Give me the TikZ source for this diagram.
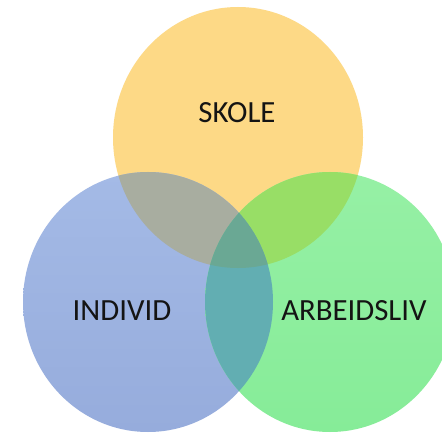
\documentclass[tikz,border=0pt]{standalone}
\usepackage{fontspec}
\setmainfont{Carlito}
\definecolor{cyel}{RGB}{253,217,134}
\definecolor{cblueT}{RGB}{164,186,230}
\definecolor{cblueB}{RGB}{150,172,220}
\definecolor{cgreenT}{RGB}{150,240,165}
\definecolor{cgreenB}{RGB}{134,236,152}
\definecolor{cyb}{RGB}{168,173,160}
\definecolor{cyg}{RGB}{152,222,102}
\definecolor{cbg}{RGB}{98,174,178}
\definecolor{cybg}{RGB}{106,168,148}
\tikzset{lbl/.style={font=\fontsize{30.8}{33}\selectfont, text=black!92, inner sep=0pt}}
\begin{document}
\begin{tikzpicture}[x=1pt,y=-1pt]
\clip (0,0) rectangle (442,433);
\fill[white] (0,0) rectangle (442,433);
\def\Yc{(238,137.5) ellipse [x radius=125, y radius=130.5]}
\def\Bc{(148,302) ellipse [x radius=125, y radius=130]}
\def\Gc{(330,302) ellipse [x radius=125, y radius=130]}
\fill[cyel] \Yc;
\shade[top color=cblueT, bottom color=cblueB] \Bc;
\shade[top color=cgreenT, bottom color=cgreenB] \Gc;
\begin{scope}\clip \Yc; \fill[cyb] \Bc; \end{scope}
\begin{scope}\clip \Yc; \fill[cyg] \Gc; \end{scope}
\begin{scope}\clip \Bc; \fill[cbg] \Gc; \end{scope}
\begin{scope}\clip \Yc; \clip \Bc; \fill[cybg] \Gc; \end{scope}
\node[lbl] (skole) at (237,112.5) {SKOLE};
\node[lbl] (individ) at (122,311) {INDIVID};
\node[lbl] (arbeid) at (354,311) {ARBEIDSLIV};
\end{tikzpicture}
\end{document}
